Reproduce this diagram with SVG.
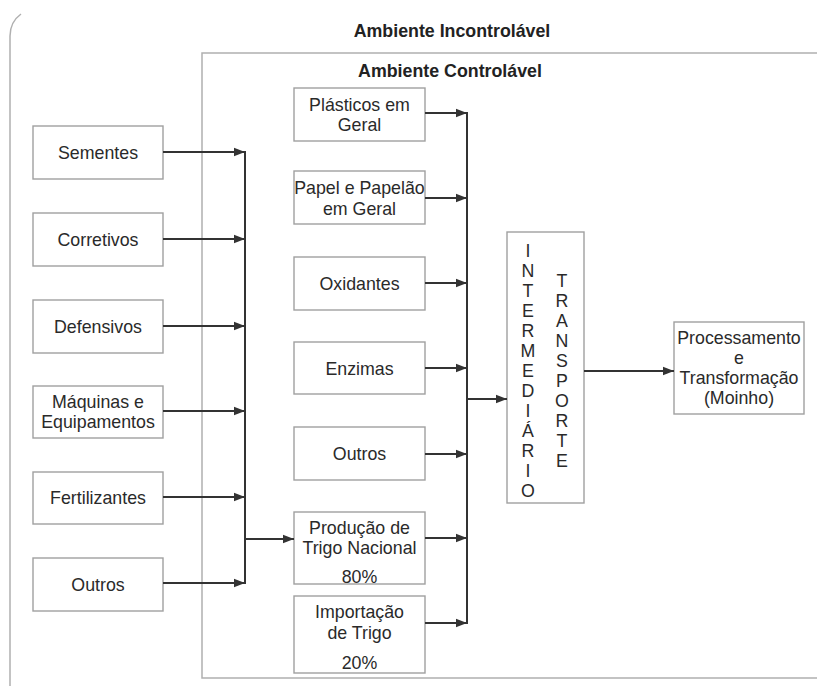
<svg xmlns="http://www.w3.org/2000/svg" width="817" height="686" viewBox="0 0 817 686">
<style>
.box{fill:#fff;stroke:#a0a0a0;stroke-width:1.4}
.t{font-family:"Liberation Sans",Arial,sans-serif;font-size:17.8px;fill:#2a2a2a;text-anchor:middle}
.b{font-family:"Liberation Sans",Arial,sans-serif;font-size:17.8px;font-weight:bold;fill:#222;text-anchor:middle}
.c{stroke:#333;stroke-width:2;fill:none}
.env{fill:none;stroke:#b0b0b0;stroke-width:1.5}
</style>
<defs>
<marker id="ah" markerUnits="userSpaceOnUse" markerWidth="11" markerHeight="10" refX="11" refY="5" orient="auto">
<path d="M0,0.8 L11,5 L0,9.2 z" fill="#333"/>
</marker>
</defs>
<rect width="817" height="686" fill="#fff"/>
<g id="ambiente-incontrolavel">
<path class="env" d="M21,14 Q10,22 10,36 L10,686"/>
<text class="b" x="452" y="36.5">Ambiente Incontrolável</text>
</g>
<g id="ambiente-controlavel">
<path class="env" d="M817,53 L202,53 L202,678 L817,678"/>
<text class="b" x="450" y="77">Ambiente Controlável</text>
</g>
<g id="sementes"><rect class="box" x="33" y="126" width="130" height="53"/><text class="t" x="98" y="158.5">Sementes</text></g>
<g id="corretivos"><rect class="box" x="33" y="213" width="130" height="53"/><text class="t" x="98" y="245.5">Corretivos</text></g>
<g id="defensivos"><rect class="box" x="33" y="300" width="130" height="53"/><text class="t" x="98" y="332.5">Defensivos</text></g>
<g id="maquinas"><rect class="box" x="33" y="386" width="130" height="52"/><text class="t" x="98" y="408">Máquinas e</text><text class="t" x="98" y="427.5">Equipamentos</text></g>
<g id="fertilizantes"><rect class="box" x="33" y="472" width="130" height="52"/><text class="t" x="98" y="504">Fertilizantes</text></g>
<g id="outros-insumos"><rect class="box" x="33" y="558" width="130" height="53"/><text class="t" x="98" y="590.5">Outros</text></g>

<g id="plasticos"><rect class="box" x="294" y="88" width="131" height="53"/><text class="t" x="359.5" y="110.5">Plásticos em</text><text class="t" x="359.5" y="131">Geral</text></g>
<g id="papel"><rect class="box" x="294" y="171" width="131" height="53"/><text class="t" x="359.5" y="194">Papel e Papelão</text><text class="t" x="359.5" y="214.5">em Geral</text></g>
<g id="oxidantes"><rect class="box" x="294" y="257" width="131" height="53"/><text class="t" x="359.5" y="289.5">Oxidantes</text></g>
<g id="enzimas"><rect class="box" x="294" y="342" width="131" height="52"/><text class="t" x="359.5" y="374.5">Enzimas</text></g>
<g id="outros-ingredientes"><rect class="box" x="294" y="427" width="131" height="53"/><text class="t" x="359.5" y="460">Outros</text></g>
<g id="producao"><rect class="box" x="294" y="512" width="131" height="72"/><text class="t" x="359.5" y="533.5">Produção de</text><text class="t" x="359.5" y="553.5">Trigo Nacional</text><text class="t" x="359.5" y="583">80%</text></g>
<g id="importacao"><rect class="box" x="294" y="596" width="131" height="77"/><text class="t" x="359.5" y="617.5">Importação</text><text class="t" x="359.5" y="638.5">de Trigo</text><text class="t" x="359.5" y="669">20%</text></g>

<g id="intermediario-transporte"><rect class="box" x="507" y="232" width="77" height="271"/>
<text class="t" x="528" y="257">I</text><text class="t" x="528" y="277">N</text><text class="t" x="528" y="297">T</text><text class="t" x="528" y="317">E</text><text class="t" x="528" y="337">R</text><text class="t" x="528" y="357">M</text><text class="t" x="528" y="377">E</text><text class="t" x="528" y="397">D</text><text class="t" x="528" y="417">I</text><text class="t" x="528" y="437">Á</text><text class="t" x="528" y="457">R</text><text class="t" x="528" y="477">I</text><text class="t" x="528" y="497">O</text>
<text class="t" x="562" y="287">T</text><text class="t" x="562" y="307">R</text><text class="t" x="562" y="327">A</text><text class="t" x="562" y="347">N</text><text class="t" x="562" y="367">S</text><text class="t" x="562" y="387">P</text><text class="t" x="562" y="407">O</text><text class="t" x="562" y="427">R</text><text class="t" x="562" y="447">T</text><text class="t" x="562" y="467">E</text>
</g>
<g id="processamento"><rect class="box" x="674" y="322" width="130" height="92"/><text class="t" x="739" y="344">Processamento</text><text class="t" x="739" y="364">e</text><text class="t" x="739" y="384">Transformação</text><text class="t" x="739" y="404">(Moinho)</text></g>

<g id="connectors">
<path class="c" marker-end="url(#ah)" d="M163,152 H245"/>
<path class="c" marker-end="url(#ah)" d="M163,239 H245"/>
<path class="c" marker-end="url(#ah)" d="M163,326 H245"/>
<path class="c" marker-end="url(#ah)" d="M163,411 H245"/>
<path class="c" marker-end="url(#ah)" d="M163,497 H245"/>
<path class="c" marker-end="url(#ah)" d="M163,583 H245"/>
<path class="c" d="M245,151 V584"/>
<path class="c" marker-end="url(#ah)" d="M245,539 H294"/>
<path class="c" marker-end="url(#ah)" d="M425,113 H467"/>
<path class="c" marker-end="url(#ah)" d="M425,198 H467"/>
<path class="c" marker-end="url(#ah)" d="M425,283 H467"/>
<path class="c" marker-end="url(#ah)" d="M425,368 H467"/>
<path class="c" marker-end="url(#ah)" d="M425,454 H467"/>
<path class="c" marker-end="url(#ah)" d="M425,538 H467"/>
<path class="c" marker-end="url(#ah)" d="M425,623 H467"/>
<path class="c" d="M467,112 V624"/>
<path class="c" marker-end="url(#ah)" d="M467,399 H507"/>
<path class="c" marker-end="url(#ah)" d="M584,371 H674"/>
</g>
</svg>
